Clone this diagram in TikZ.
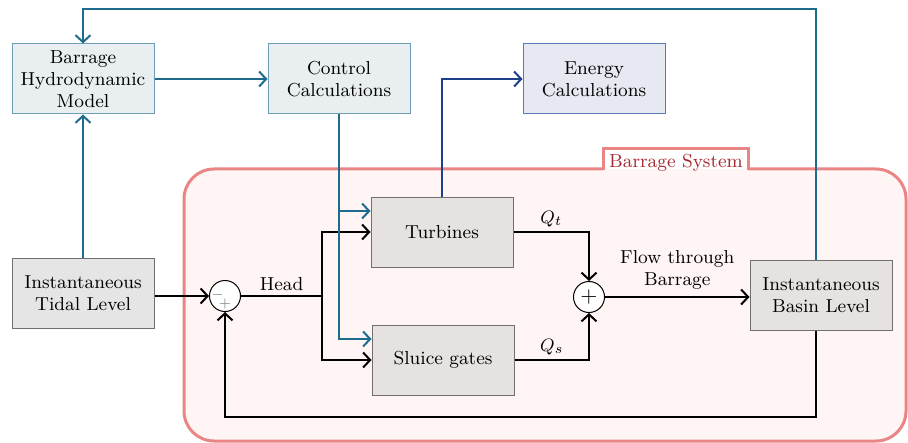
\documentclass[tikz,border=0pt]{standalone}
\usetikzlibrary{arrows.meta,calc}
\definecolor{blueline}{HTML}{1F6B8E}
\definecolor{darkblueline}{HTML}{1E3F8C}
\definecolor{modelfill}{HTML}{E9EFF0}
\definecolor{modeldraw}{HTML}{6E9DB5}
\definecolor{energyfill}{HTML}{E6E9F1}
\definecolor{energydraw}{HTML}{5679B9}
\definecolor{grayfill}{HTML}{E5E5E5}
\definecolor{grayinfill}{HTML}{E6E2E0}
\definecolor{graydraw}{HTML}{707070}
\definecolor{sysdraw}{HTML}{EA8585}
\definecolor{sysfill}{HTML}{FFF5F5}
\definecolor{syslabel}{HTML}{A6262E}
\definecolor{signgray}{HTML}{808080}
\tikzset{
  x=0.5pt, y=-0.5pt,
  every node/.style={font=\fontsize{9.4}{11}\selectfont},
  blockbox/.style={draw, line width=0.5pt, minimum width=71pt, minimum height=35pt, inner sep=0pt, align=center},
  modelbox/.style={blockbox, fill=modelfill, draw=modeldraw},
  energybox/.style={blockbox, fill=energyfill, draw=energydraw},
  graybox/.style={blockbox, fill=grayfill, draw=graydraw},
  grayinbox/.style={blockbox, fill=grayinfill, draw=graydraw},
  sumnode/.style={circle, draw, line width=0.5pt, fill=white, minimum size=15.5pt, inner sep=0pt},
  arrowtip/.style={-{Straight Barb[length=3.5pt,width=7.5pt,line width=1pt]}},
  blackline/.style={line width=1.2pt, black},
  bluel/.style={line width=1pt, blueline},
  dbluel/.style={line width=1pt, darkblueline},
  signlabel/.style={text=signgray, font=\fontsize{7.5}{8}\selectfont, inner sep=0pt},
}
\begin{document}
\begin{tikzpicture}
\useasboundingbox (0,0) rectangle (908,443);
% barrage system area
\fill[sysfill, rounded corners=15pt] (184,169) rectangle (906,441);
\draw[sysdraw, line width=1.5pt, rounded corners=15pt] (748,169) -- (906,169) -- (906,441) -- (184,441) -- (184,169) -- (603,169);
\draw[sysdraw, line width=1.5pt] (603,170.5) -- (603,149) -- (748,149) -- (748,170.5);
\node[text=syslabel] (syslab) at (676,163) {Barrage System};

% blocks
\node[modelbox] (hydro) at (83,79) {Barrage\\Hydrodynamic\\Model};
\node[modelbox] (ctrl) at (339,79) {Control\\Calculations};
\node[energybox] (energy) at (594,79) {Energy\\Calculations};
\node[graybox] (tidal) at (83,293) {Instantaneous\\Tidal Level};
\node[grayinbox] (turb) at (442,232) {Turbines};
\node[grayinbox] (sluice) at (443,360) {Sluice gates};
\node[grayinbox] (basin) at (821,295.5) {Instantaneous\\Basin Level};
\node[sumnode] (sumA) at (225,296) {};
\node[signlabel] (minus) at (217.5,295) {$-$};
\node[signlabel] (plus) at (225,304) {$+$};
\node[sumnode, font=\fontsize{11}{12}\selectfont] (sumB) at (589,297) {$+$};

\coordinate (split) at (322,296);
\coordinate (topc) at (816,9);
\coordinate (botc) at (816,417);

% black signal flow
\draw[blackline, arrowtip] (tidal.east |- sumA) -- (sumA.west);
\draw[blackline] (sumA.east) -- node[above, inner sep=2pt] (headlab) {Head} (split);
\draw[blackline, arrowtip] (split) |- (turb.west);
\draw[blackline, arrowtip] (split) |- (sluice.west);
\draw[blackline, arrowtip] (turb.east) -| node[above, pos=0.25, inner sep=2pt] (qt) {$Q_t$} (sumB.north);
\draw[blackline, arrowtip] (sluice.east) -| node[above, pos=0.25, inner sep=2pt] (qs) {$Q_s$} (sumB.south);
\draw[blackline, arrowtip] (sumB.east) -- node[above, align=center, inner sep=3pt] (flowlab) {Flow through\\Barrage} (basin.west |- sumB);
\draw[blackline, arrowtip] (basin.south -| botc) -- (botc) -| (sumA.south);

% blue control flow
\draw[bluel, arrowtip] (tidal.north) -- (hydro.south);
\draw[bluel, arrowtip] (hydro.east) -- (ctrl.west);
\draw[bluel, arrowtip] (ctrl.south) |- ([yshift=10.5pt]sluice.west);
\draw[bluel, arrowtip] (ctrl.south |- turb.west) ++(0,-21) -- ([yshift=10.5pt]turb.west);
\draw[bluel, arrowtip] (basin.north -| topc) -- (topc) -| (hydro.north);
\draw[dbluel, arrowtip] (turb.north) |- (energy.west);
\end{tikzpicture}
\end{document}
